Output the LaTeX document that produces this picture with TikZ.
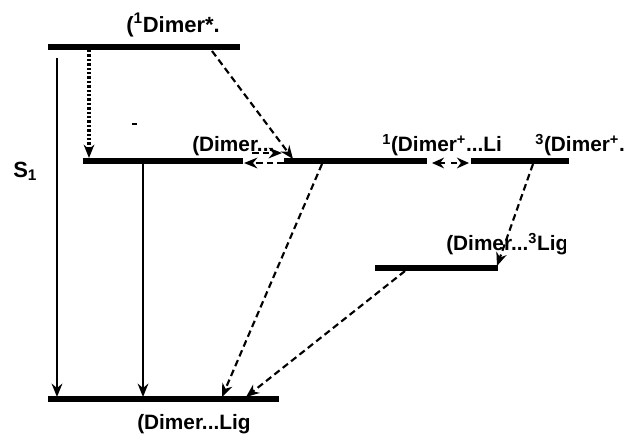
\documentclass[tikz,border=0pt]{standalone}
\usepackage{fontspec}
\setmainfont{Liberation Sans}
\usetikzlibrary{arrows.meta}
\begin{document}
\begin{tikzpicture}[x=0.75pt,y=-0.75pt,
  level/.style={line width=3.8pt},
  solidarrow/.style={line width=1.6pt,-{Stealth[length=10pt,width=8pt]}},
  dasharrow/.style={line width=1.6pt,dash pattern=on 5pt off 3pt,-{Stealth[length=10pt,width=8pt]}},
  dotarrow/.style={line width=2.4pt,dash pattern=on 1.8pt off 1.5pt,-{Stealth[length=10pt,width=8pt]}},
  lbl/.style={anchor=base west,inner sep=0pt,font=\fontsize{15.6}{18}\selectfont\bfseries}]
\useasboundingbox (0,0) rectangle (624,433);

% energy levels
\coordinate (t1) at (48,47);   \coordinate (t2) at (240,47);
\coordinate (a1) at (83,161);  \coordinate (a2) at (243,161);
\coordinate (b1) at (284,161); \coordinate (b2) at (427,161);
\coordinate (c1) at (471,161); \coordinate (c2) at (569,161);
\coordinate (l1) at (375,268); \coordinate (l2) at (498,268);
\coordinate (g1) at (48,399);  \coordinate (g2) at (279,399);
\draw[level] (t1) -- (t2);
\draw[level] (a1) -- (a2);
\draw[level] (b1) -- (b2);
\draw[level] (c1) -- (c2);
\draw[level] (l1) -- (l2);
\draw[level] (g1) -- (g2);

% labels
\node[lbl,font=\fontsize{16.5}{19}\selectfont\bfseries] (ltop) at (126,32) {(\textsuperscript{1}Dimer*.};
\node[lbl] (la) at (192,151) {(Dimer...};
\node[lbl] (lb) at (382,151) {\textsuperscript{1}(Dimer\textsuperscript{+}...Li};
\node[lbl] (lc) at (535,151) {\textsuperscript{3}(Dimer\textsuperscript{+}.};
\begin{scope}
  \clip (440,225) rectangle (565,260);
  \node[lbl] (ll) at (446,250) {(Dimer...\textsuperscript{3}Lig};
\end{scope}
\begin{scope}
  \clip (130,405) rectangle (257,433);
  \node[lbl] (lg) at (137,429) {(Dimer...Lig};
\end{scope}
\node[lbl,font=\fontsize{16.5}{19}\selectfont\bfseries] (ls) at (13,177) {S\textsubscript{1}};
\draw[line width=0.8pt] (132,124) -- (137,124);

% vertical transitions
\coordinate (v1s) at (57,58);   \coordinate (v1e) at (57,397);
\coordinate (v2s) at (89,50);   \coordinate (v2e) at (89,158);
\coordinate (v3s) at (143,163); \coordinate (v3e) at (143,397);
\draw[solidarrow] (v1s) -- (v1e);
\draw[dotarrow] (v2s) -- (v2e);
\draw[solidarrow] (v3s) -- (v3e);

% dashed transitions
\coordinate (d1s) at (212,51);  \coordinate (d1e) at (293,159);
\coordinate (d2s) at (322,164); \coordinate (d2e) at (222,397);
\coordinate (d3s) at (533,164); \coordinate (d3e) at (497,266);
\coordinate (d4s) at (405,271); \coordinate (d4e) at (246,397);
\draw[dasharrow] (d1s) -- (d1e);
\draw[dasharrow] (d2s) -- (d2e);
\draw[dasharrow] (d3s) -- (d3e);
\draw[dasharrow] (d4s) -- (d4e);

% equilibria between the middle states
\coordinate (e1s) at (252,153); \coordinate (e1e) at (282,153);
\coordinate (e2s) at (284,163); \coordinate (e2e) at (244,163);
\draw[dasharrow] (e1s) -- (e1e);
\draw[dasharrow] (e2s) -- (e2e);
\coordinate (e3s) at (432,163); \coordinate (e3e) at (469,163);
\draw[line width=1.6pt,dash pattern=on 4pt off 5pt,{Stealth[length=9pt,width=8pt]}-{Stealth[length=9pt,width=8pt]}] (e3s) -- (e3e);
\end{tikzpicture}
\end{document}
